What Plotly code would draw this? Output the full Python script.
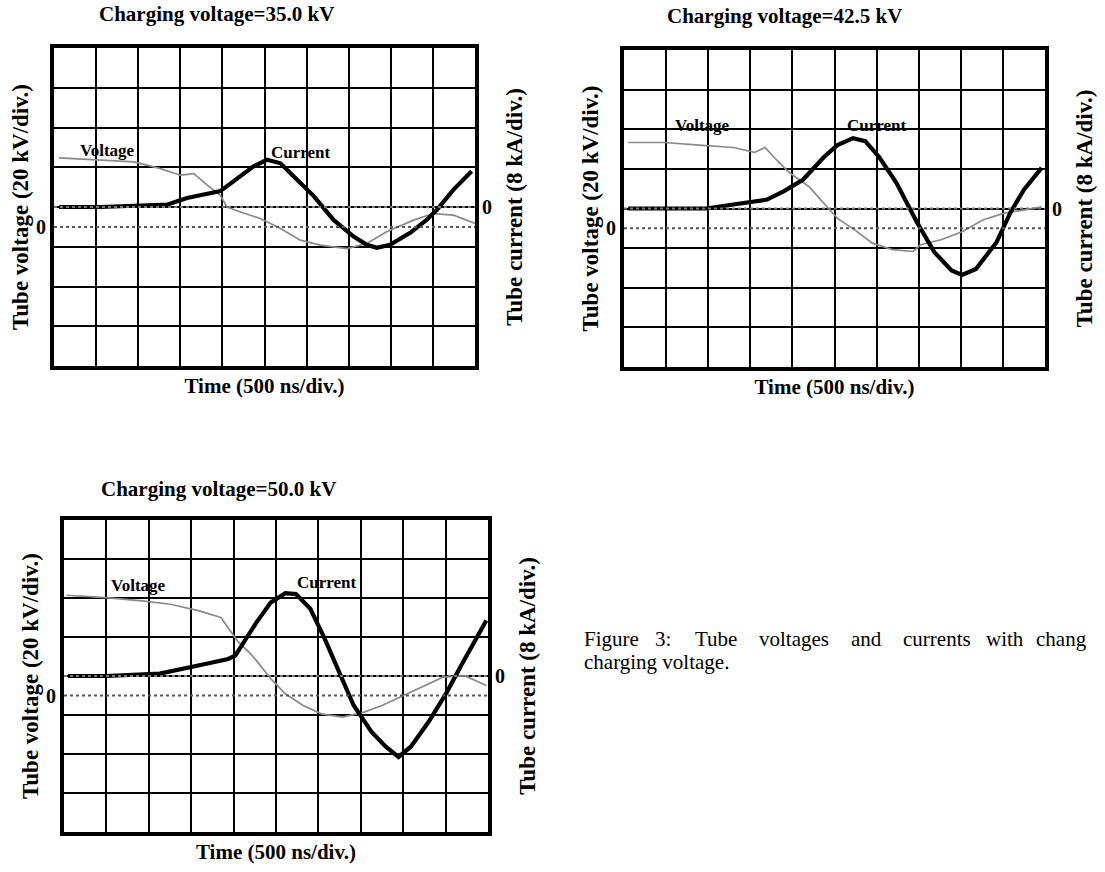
import plotly.graph_objects as go

W, H = 1105, 872

# ---------------- data (time in ns, voltage in kV, current in kA) ----------------
titles = ["Charging voltage=35.0 kV", "Charging voltage=42.5 kV", "Charging voltage=50.0 kV"]

t1_v = [60, 550, 950, 1265, 1500, 1660, 1820, 1975, 2055, 2215, 2450, 2690, 2925, 3160, 3480, 3715, 3950, 4270, 4505, 4745, 5000]
v1 = [34.7, 33.5, 32.7, 29.3, 26.0, 26.8, 21.0, 15.9, 10.0, 7.5, 4.2, -0.8, -6.7, -9.2, -10.9, -8.4, -2.5, 3.4, 6.7, 5.9, 1.7]
t1_i = [60, 550, 1350, 1580, 1975, 2215, 2370, 2530, 2690, 2845, 3085, 3320, 3555, 3715, 3835, 3990, 4230, 4425, 4545, 4745, 4960]
i1 = [0, 0, 0.5, 1.8, 3.2, 6.2, 8.2, 9.5, 8.8, 6.2, 2.2, -2.6, -5.9, -7.6, -8.2, -7.6, -5.2, -2.6, -0.6, 3.5, 7.2]

t2_v = [50, 480, 890, 1300, 1550, 1675, 1800, 1960, 2040, 2205, 2375, 2535, 2740, 2950, 3190, 3435, 3520, 3765, 4015, 4260, 4505, 4750, 4960]
v2 = [43.3, 43.3, 42.0, 40.8, 38.3, 40.8, 35.0, 28.3, 25.8, 20.8, 12.5, 5.0, -0.8, -7.5, -10.8, -11.7, -8.3, -5.8, -1.7, 4.2, 7.5, 9.2, 10.8]
t2_i = [50, 975, 1300, 1700, 1900, 2125, 2375, 2535, 2720, 2865, 3030, 3235, 3480, 3685, 3890, 4015, 4180, 4425, 4590, 4750, 4960]
i2 = [0, 0, 0.8, 1.8, 3.5, 5.8, 10.4, 12.8, 14.2, 13.6, 10.4, 5.2, -2.8, -8.8, -12.5, -13.4, -12.2, -6.8, -0.8, 3.8, 8.2]

t3_v = [30, 495, 920, 1255, 1595, 1850, 1975, 2060, 2185, 2270, 2440, 2610, 2820, 3035, 3285, 3540, 3750, 4005, 4260, 4470, 4725, 4980]
v3 = [51.4, 50.2, 48.5, 46.8, 43.4, 40.0, 32.3, 27.2, 22.1, 17.9, 8.5, 0.9, -5.1, -9.4, -11.1, -8.5, -5.1, 0.0, 5.1, 9.4, 10.2, 5.1]
t3_i = [50, 495, 1130, 1425, 1680, 1935, 2020, 2145, 2270, 2440, 2610, 2735, 2905, 3075, 3245, 3415, 3625, 3795, 3945, 4090, 4300, 4515, 4685, 4850, 4980]
i3 = [0, 0, 0.5, 1.5, 2.5, 3.5, 4.2, 7.6, 11.0, 15.1, 17.0, 16.8, 13.8, 7.6, 0.8, -6.0, -11.4, -14.5, -16.6, -14.5, -9.4, -3.3, 2.2, 7.6, 11.4]

time_ticks = list(range(0, 5001, 500))          # 500 ns/div, 10 divisions
volt_range = [-70, 90]                            # 20 kV/div, 8 divisions
curr_range = [-32, 32]                            # 8 kA/div, 8 divisions
curr_ticks = list(range(-32, 33, 8))
curr_ticktext = ["0" if c == 0 else "" for c in curr_ticks]

caption_words = ["Figure", "3:", "Tube", "voltages", "and", "currents", "with", "chang"]
caption_line2 = "charging voltage."

# ---------------- layout geometry (pixels) ----------------
boxes = [(54, 475, 48, 366), (624, 1045, 50, 367), (64, 488, 520, 832)]
title_pos = [(216, 14), (784, 16), (218, 489)]
vlab_pos = [(107, 150), (702, 126), (138, 585)]
clab_pos = [(301, 152), (877, 126), (327, 582)]
caption_x = [582, 653, 693, 757, 849, 901, 984, 1034]

FONT = "Liberation Serif"


def px(x):
    return x / W


def py(y):
    return 1 - y / H


fig = go.Figure()
data = [(t1_v, v1, t1_i, i1), (t2_v, v2, t2_i, i2), (t3_v, v3, t3_i, i3)]
annotations = []
shapes = []
layout = {}

for k, ((tv, v, ti, cur), box) in enumerate(zip(data, boxes)):
    n = k + 1
    xname = "x" if n == 1 else f"x{n}"
    yv = "y" if n == 1 else f"y{2 * n - 1}"
    yc = f"y{2 * n}"
    xa = "xaxis" if n == 1 else f"xaxis{n}"
    yva = "yaxis" if n == 1 else f"yaxis{2 * n - 1}"
    yca = f"yaxis{2 * n}"
    x0, x1, y0, y1 = box

    fig.add_trace(go.Scatter(x=tv, y=v, xaxis=xname, yaxis=yv, mode="lines",
                             line=dict(color="#8a8a8a", width=1.7), name="Voltage",
                             showlegend=False, hoverinfo="skip"))
    fig.add_trace(go.Scatter(x=ti, y=cur, xaxis=xname, yaxis=yc, mode="lines",
                             line=dict(color="black", width=4.2), name="Current",
                             showlegend=False, hoverinfo="skip"))

    layout[xa] = dict(domain=[px(x0), px(x1)], range=[0, 5000], anchor=yv,
                      tickvals=time_ticks, showticklabels=False, ticks="",
                      showgrid=True, gridcolor="black", gridwidth=2, zeroline=False,
                      showline=True, linecolor="black", linewidth=4, mirror=True,
                      title=dict(text="Time (500 ns/div.)", standoff=10,
                                 font=dict(family=FONT, size=21, color="black", weight="bold")))
    layout[yva] = dict(domain=[py(y1), py(y0)], range=volt_range, anchor=xname,
                       tickvals=[0], ticktext=["0"], ticks="", showgrid=False, zeroline=False,
                       showline=True, linecolor="black", linewidth=4, mirror=True,
                       tickfont=dict(family=FONT, size=20, color="black", weight="bold"),
                       title=dict(text="Tube voltage (20 kV/div.)", standoff=2,
                                  font=dict(family=FONT, size=23, color="black", weight="bold")))
    layout[yca] = dict(range=curr_range, overlaying=yv, anchor=xname, side="right",
                       tickvals=curr_ticks, ticktext=curr_ticktext, ticks="",
                       ticklabelstandoff=6,
                       showgrid=True, gridcolor="black", gridwidth=2, zeroline=False,
                       showline=False,
                       tickfont=dict(family=FONT, size=20, color="black", weight="bold"),
                       title=dict(text="Tube current (8 kA/div.)", standoff=14,
                                  font=dict(family=FONT, size=23, color="black", weight="bold")))

    # zero reference traces of the two channels
    shapes.append(dict(type="line", xref=f"{xname} domain", x0=0, x1=1, yref=yv, y0=0, y1=0,
                       line=dict(color="#555555", width=2, dash="dot"), layer="above"))
    shapes.append(dict(type="line", xref=f"{xname} domain", x0=0, x1=1, yref=yc, y0=0, y1=0,
                       line=dict(color="#777777", width=2, dash="dot"), layer="above"))

    annotations.append(dict(text=titles[k], x=px(title_pos[k][0]), y=py(title_pos[k][1]),
                            xref="paper", yref="paper", showarrow=False,
                            xanchor="center", yanchor="middle",
                            font=dict(family=FONT, size=21, color="black", weight="bold")))
    annotations.append(dict(text="Voltage", x=px(vlab_pos[k][0]), y=py(vlab_pos[k][1]),
                            xref="paper", yref="paper", showarrow=False,
                            xanchor="center", yanchor="middle",
                            font=dict(family=FONT, size=17, color="black", weight="bold")))
    annotations.append(dict(text="Current", x=px(clab_pos[k][0]), y=py(clab_pos[k][1]),
                            xref="paper", yref="paper", showarrow=False,
                            xanchor="center", yanchor="middle",
                            font=dict(family=FONT, size=17, color="black", weight="bold")))

for word, wx in zip(caption_words, caption_x):
    annotations.append(dict(text=word, x=px(wx), y=py(639), xref="paper", yref="paper",
                            showarrow=False, xanchor="left", yanchor="middle",
                            font=dict(family=FONT, size=21, color="black")))
annotations.append(dict(text=caption_line2, x=px(582), y=py(662), xref="paper", yref="paper",
                        showarrow=False, xanchor="left", yanchor="middle",
                        font=dict(family=FONT, size=21, color="black")))

fig.update_layout(
    width=W, height=H,
    margin=dict(l=0, r=0, t=0, b=0),
    paper_bgcolor="white", plot_bgcolor="white",
    showlegend=False,
    annotations=annotations, shapes=shapes,
    **layout,
)

fig.write_html("out.html")
